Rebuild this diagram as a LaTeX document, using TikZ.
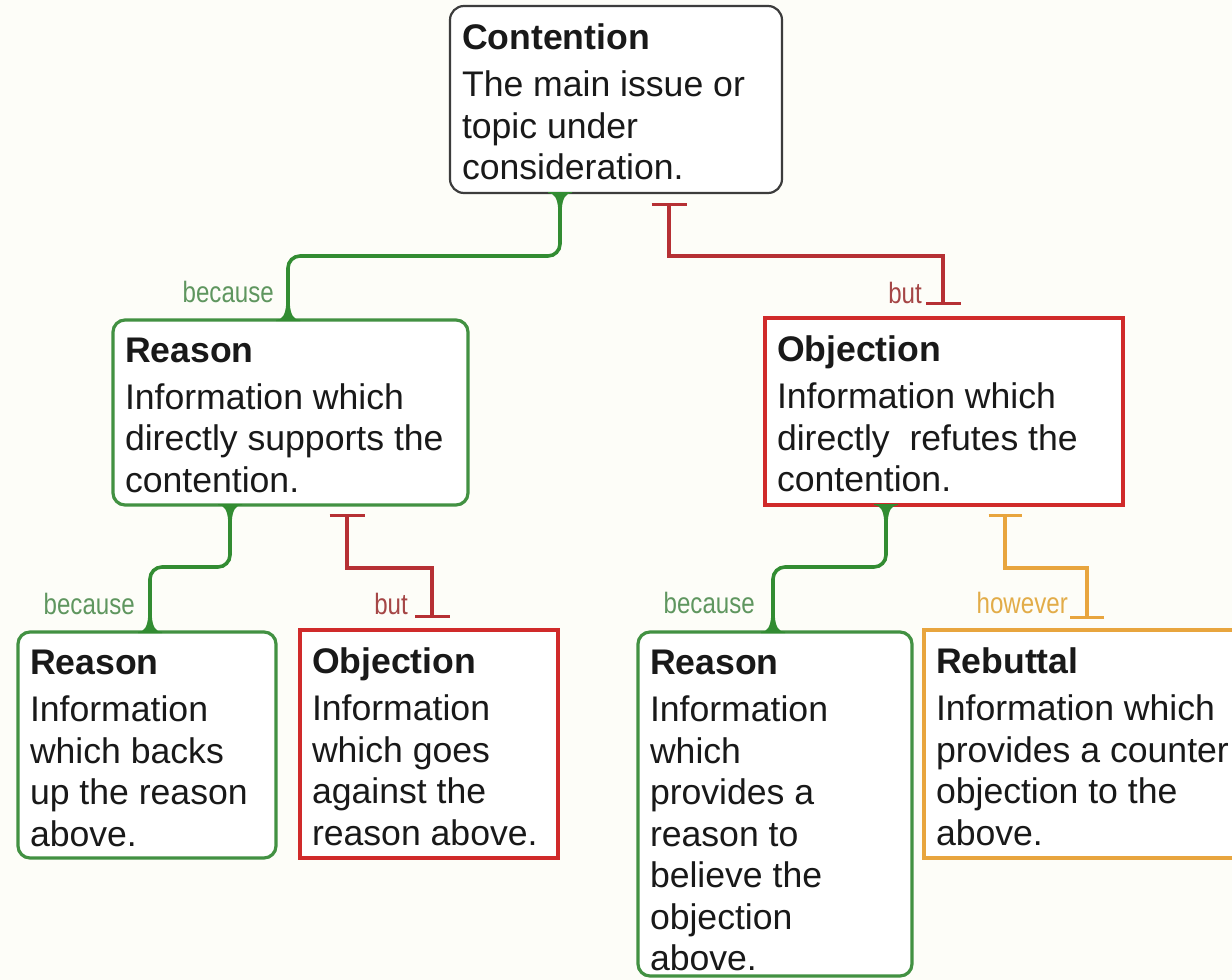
\documentclass[tikz,border=0pt]{standalone}
\usepackage{fontspec}
\setmainfont{Liberation Sans}
\newfontfamily\narrowfont[FakeStretch=0.82]{Liberation Sans}
\usetikzlibrary{arrows.meta,calc}
\definecolor{bgcol}{RGB}{253,253,248}
\definecolor{gcol}{RGB}{50,140,50}
\definecolor{gbord}{RGB}{66,145,66}
\definecolor{rcol}{RGB}{208,42,42}
\definecolor{rlinecol}{RGB}{182,48,52}
\definecolor{ocol}{RGB}{232,165,62}
\definecolor{ccol}{RGB}{60,60,60}
\definecolor{txtcol}{RGB}{25,25,25}
\definecolor{glab}{RGB}{95,150,95}
\definecolor{rlab}{RGB}{165,70,70}
\definecolor{olab}{RGB}{226,172,72}
\newcommand\boxbody[3]{\begin{minipage}[b][#1][t]{#2}\fontsize{35.6pt}{41.5pt}\selectfont #3\end{minipage}}
\newcommand\boxtitle[1]{\textbf{#1}\par\vspace{5.5pt}}
\begin{document}
\begin{tikzpicture}[x=1pt,y=-1pt,
  box/.style={fill=white, line width=3.2pt, anchor=north west, inner xsep=12pt, inner ysep=18pt, outer sep=0pt, text=txtcol},
  gbox/.style={box, draw=gbord, rounded corners=12pt},
  rbox/.style={box, draw=rcol},
  obox/.style={box, draw=ocol},
  cbox/.style={box, draw=ccol, line width=2.2pt, rounded corners=14pt},
  gline/.style={draw=gcol, line width=3.6pt, rounded corners=12pt},
  rline/.style={draw=rlinecol, line width=3.4pt, arrows={Bar[width=35pt]-Bar[width=35pt]}},
  oline/.style={draw=ocol, line width=3.4pt, arrows={Bar[width=33pt]-Bar[width=34pt]}},
  lab/.style={inner sep=0pt, anchor=base east, font=\narrowfont\fontsize{29.4pt}{30pt}\selectfont},
  fillet/.pic={\fill[gcol] (-12,-1) -- (-12,0) .. controls (-6,0) and (-2.5,5) .. (-1.8,16) -- (1.8,16) .. controls (2.5,5) and (6,0) .. (12,0) -- (12,-1) -- cycle;}
]
\useasboundingbox (0,0) rectangle (1232,980);
\fill[bgcol] (0,0) rectangle (1232,980);

% boxes
\node[cbox] (cont) at (450,6) {\boxbody{151pt}{308pt}{\boxtitle{Contention}The main issue or\\topic under\\consideration.}};
\node[gbox] (reason1) at (113,320) {\boxbody{149pt}{331pt}{\boxtitle{Reason}Information which\\directly supports the\\contention.}};
\node[rbox] (obj1) at (765,318) {\boxbody{151pt}{334pt}{\boxtitle{Objection}Information which\\directly\ \ refutes the\\contention.}};
\node[gbox] (reason2) at (18,632) {\boxbody{190pt}{234pt}{\boxtitle{Reason}Information\\which backs\\up the reason\\above.}};
\node[rbox] (obj2) at (300,630) {\boxbody{192pt}{234pt}{\boxtitle{Objection}Information\\which goes\\against the\\reason above.}};
\node[gbox] (reason3) at (638,632) {\boxbody{308pt}{250pt}{\boxtitle{Reason}Information\\which\\provides a\\reason to\\believe the\\objection\\above.}};
\node[obox] (rebut) at (924,630) {\boxbody{192pt}{296pt}{\boxtitle{Rebuttal}Information which\\provides a counter\\objection to the\\above.}};

% connector end points
\coordinate (a1) at ($(cont.south west)+(110,0)$);
\coordinate (b1) at ($(reason1.north west)+(175,0)$);
\coordinate (s1) at ($(cont.south west)+(219,10)$);
\coordinate (e1) at ($(obj1.north west)+(178,-13)$);
\coordinate (a2) at ($(reason1.south west)+(117,0)$);
\coordinate (b2) at ($(reason2.north west)+(132,0)$);
\coordinate (s2) at ($(reason1.south west)+(234,9)$);
\coordinate (e2) at ($(obj2.north west)+(132,-12)$);
\coordinate (a3) at ($(obj1.south west)+(121,0)$);
\coordinate (b3) at ($(reason3.north west)+(135,0)$);
\coordinate (s3) at ($(obj1.south west)+(240,9)$);
\coordinate (e3) at ($(rebut.north west)+(163,-11)$);

% green "because" connectors
\draw[gline] (a1) -- ++(0,63) -| (b1);
\draw[gline] (a2) -- ++(0,62) -| (b2);
\draw[gline] (a3) -- ++(0,62) -| (b3);
\foreach \p in {a1,a2,a3} {\pic at (\p) {fillet};}
\foreach \p in {b1,b2,b3} {\pic[yscale=-1] at (\p) {fillet};}

% red "but" and orange "however" connectors
\draw[rline] (s1) -- ++(0,53) -| (e1);
\draw[rline] (s2) -- ++(0,54) -| (e2);
\draw[oline] (s3) -- ++(0,54) -| (e3);

% labels
\node[lab, text=glab] (l1) at (274,302) {because};
\node[lab, text=rlab] (l2) at (922,303) {but};
\node[lab, text=glab] (l3) at (135,614) {because};
\node[lab, text=rlab] (l4) at (408,614) {but};
\node[lab, text=glab] (l5) at (755,613) {because};
\node[lab, text=olab] (l6) at (1068,613) {however};
\end{tikzpicture}
\end{document}
